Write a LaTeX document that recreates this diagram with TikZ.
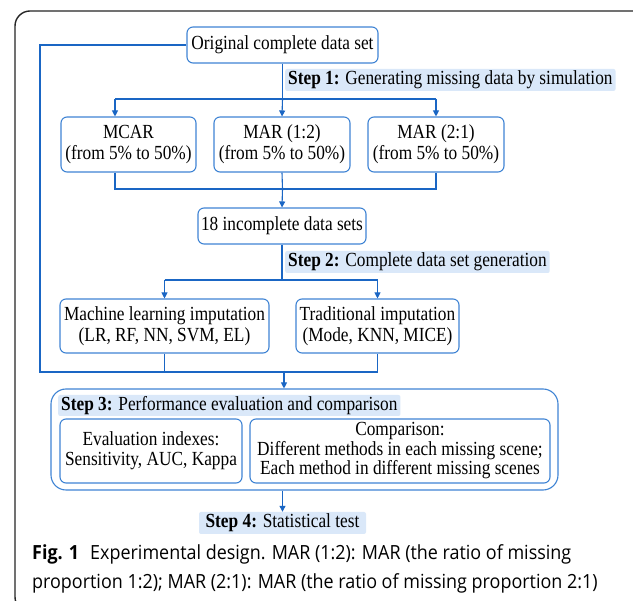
\documentclass[tikz,border=0pt]{standalone}
\usepackage{fontspec}
\setmainfont[FakeStretch=0.865]{Liberation Serif}
\newfontfamily\capfont[FakeStretch=0.92]{Open Sans}
\usetikzlibrary{arrows.meta}
\definecolor{lineblue}{HTML}{1A66C4}
\definecolor{boxblue}{HTML}{3F84D4}
\definecolor{hlblue}{HTML}{DAE8F9}
\begin{document}
\begin{tikzpicture}[x=1pt,y=-1pt,
  box/.style={draw=boxblue, line width=1.1pt, rounded corners=6pt, align=center, inner sep=0pt, font=\fontsize{20}{21}\selectfont},
  hl/.style={fill=hlblue, rounded corners=2pt, inner xsep=3pt, inner ysep=0pt, minimum height=22pt, font=\fontsize{20}{21}\selectfont},
  conn/.style={draw=lineblue, line width=1.1pt},
  arr/.style={conn, -{Triangle[length=6pt,width=6pt]}}
]
\clip (0,0) rectangle (633,601);
\fill[white] (0,0) rectangle (633,601);
\draw[line width=1.4pt, draw=black!85, rounded corners=15pt] (15,11) rectangle (648,612);

% nodes
\node[box, minimum width=191pt, minimum height=36pt] (orig) at (282.5,45) {Original complete data set};
\node[hl, anchor=west] (s1) at (285,80) {\textbf{Step 1:} Generating missing data by simulation};
\node[box, minimum width=135pt, minimum height=55pt] (mcar) at (128.5,144.5) {MCAR\\(from 5\% to 50\%)};
\node[box, minimum width=136pt, minimum height=55pt] (mar12) at (282,144.5) {MAR (1:2)\\(from 5\% to 50\%)};
\node[box, minimum width=136pt, minimum height=55pt] (mar21) at (436,144.5) {MAR (2:1)\\(from 5\% to 50\%)};
\node[box, minimum width=168pt, minimum height=36pt] (inc) at (282,226) {18 incomplete data sets};
\node[hl, anchor=west] (s2) at (285,262) {\textbf{Step 2:} Complete data set generation};
\node[box, minimum width=209pt, minimum height=54pt] (ml) at (164.5,326) {Machine learning imputation\\(LR, RF, NN, SVM, EL)};
\node[box, minimum width=163pt, minimum height=54pt] (trad) at (377.5,326) {Traditional imputation\\(Mode, KNN, MICE)};
\node[box, rounded corners=15pt, minimum width=507pt, minimum height=101pt] (s3box) at (304.5,439.5) {};
\node[hl, anchor=west, minimum height=21pt] (s3) at (58,405.5) {\textbf{Step 3:} Performance evaluation and comparison};
\node[box, minimum width=182pt, minimum height=64pt, font=\fontsize{20}{20}\selectfont] (eval) at (151,451) {Evaluation indexes:\\Sensitivity, AUC, Kappa};
\node[box, minimum width=300pt, minimum height=64pt, font=\fontsize{20}{19.5}\selectfont] (comp) at (400,451) {Comparison:\\Different methods in each missing scene;\\Each method in different missing scenes};
\node[hl, minimum width=167pt] (s4) at (282.5,523) {\textbf{Step 4:} Statistical test};

% coordinates
\coordinate (b1) at (282.5,99);
\coordinate (b1l) at (115,99);
\coordinate (b1r) at (436,99);
\coordinate (m1) at (282.5,189);
\coordinate (m1l) at (115,189);
\coordinate (m1r) at (436,189);
\coordinate (b2) at (282,280);
\coordinate (m2l) at (40,372);
\coordinate (m2) at (284,372);
\coordinate (m2r) at (377.5,372);

% connectors
\draw[conn] (orig.south) -- (b1);
\draw[conn] (b1l) -- (b1r);
\draw[arr] (b1l) -- (b1l |- mcar.north);
\draw[arr] (b1) -- (mar12.north);
\draw[arr] (b1r) -- (mar21.north);
\draw[conn] (mcar.south -| m1l) -- (m1l) -- (m1r) -- (mar21.south);
\draw[conn] (mar12.south) -- (m1);
\draw[arr] (m1) -- (inc.north);
\draw[conn] (inc.south) -- (b2);
\draw[conn] (b2 -| ml.north) -- (b2 -| trad.north);
\draw[arr] (b2 -| ml.north) -- (ml.north);
\draw[arr] (b2 -| trad.north) -- (trad.north);
\draw[conn] (orig.west) -| (m2l) -- (m2r) -- (trad.south);
\draw[conn] (ml.south) -- (ml.south |- m2l);
\draw[arr] (m2) -- (m2 |- s3box.north);
\draw[arr] (s3box.south -| s4.north) -- (s4.north);

% caption
\node[anchor=base west, inner sep=0pt, font=\capfont\fontsize{19.5}{24}\selectfont] (cap1) at (32,560) {\textbf{Fig. 1}\hspace{11pt}Experimental design. MAR (1:2): MAR (the ratio of missing};
\node[anchor=base west, inner sep=0pt, font=\capfont\fontsize{19.5}{24}\selectfont] (cap2) at (32,589) {proportion 1:2); MAR (2:1): MAR (the ratio of missing proportion 2:1)};
\end{tikzpicture}
\end{document}
